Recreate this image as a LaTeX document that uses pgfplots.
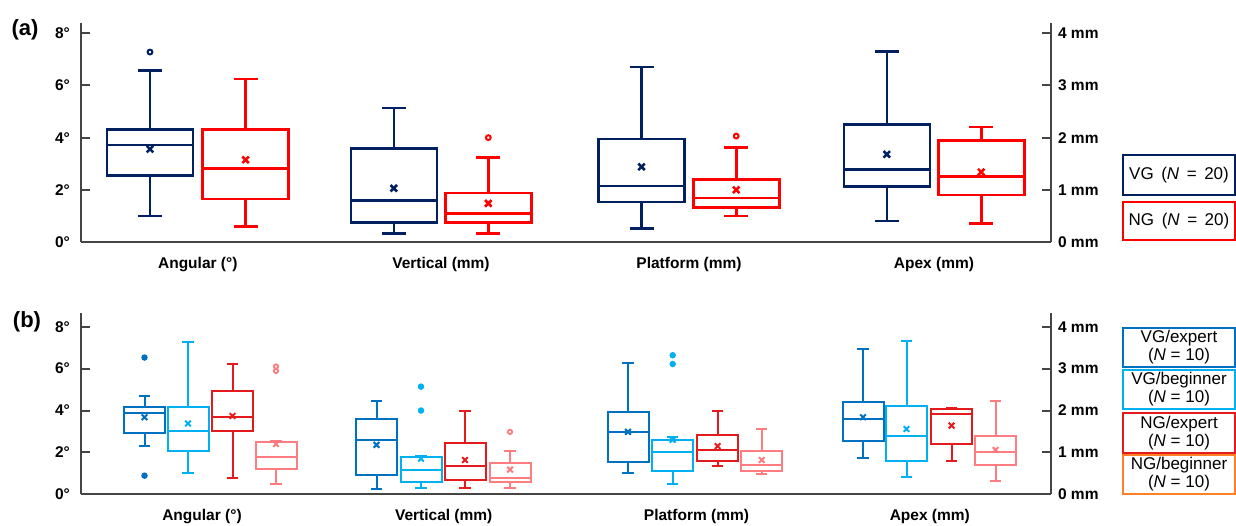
\documentclass[border=0pt]{standalone}
\usepackage{fontspec}
\setmainfont{Liberation Sans}
\usepackage{pgfplots}
\pgfplotsset{compat=1.18}
\usepgfplotslibrary{statistics}
\definecolor{navyA}{HTML}{002060}
\definecolor{redA}{HTML}{FF0000}
\definecolor{blueE}{HTML}{0070C0}
\definecolor{blueB}{HTML}{00B0F0}
\definecolor{redE}{HTML}{E41A1C}
\definecolor{salmon}{HTML}{FF7C80}
\definecolor{orangeL}{HTML}{FF7F27}
\definecolor{axisgray}{HTML}{454545}
\newcommand\BX[8]{\addplot[boxplot prepared={draw direction=y, draw position=#1, lower whisker=#2, lower quartile=#3, median=#4, upper quartile=#5, upper whisker=#6, average=#7}, #8]}
\pgfplotsset{
  every non boxed x axis/.append style={x axis line style={-}},
  every non boxed y axis/.append style={y axis line style={-}},
  base/.style={scale only axis, width=485pt, xmin=0.81, xmax=10.51, clip=false,
    boxplot/draw direction=y,
    axis line style={draw=axisgray, line width=1pt},
    tick style={draw=axisgray, line width=1pt},
    major tick length=4.5pt,
    tick label style={font=\bfseries\fontsize{7.75}{9}\selectfont, text=black},
  },
  degax/.style={base, axis x line*=bottom, axis y line*=left,
    x tick style={draw=none}, xticklabel style={yshift=-4pt},
    ytick={0,2,4,6,8}, yticklabels={0°,2°,4°,6°,8°}, ytick align=inside,
    yticklabel style={xshift=-2pt}},
  mmax/.style={base, axis x line=none, axis y line*=right, xtick=\empty,
    ytick={0,1,2,3,4}, yticklabels={0 mm,1 mm,2 mm,3 mm,4 mm}, ytick align=inside},
  boxA/.style={line width=1.3pt, boxplot/box extend=0.86, boxplot/whisker extend=0.24,
    boxplot/every average/.style={/tikz/mark=x,/tikz/mark size=2.3pt,/tikz/line width=1.4pt,/tikz/solid},
    mark=o, mark size=1.2pt, mark options={solid,line width=1pt,fill=white}},
  boxB/.style={line width=1pt, boxplot/box extend=0.41, boxplot/whisker extend=0.115,
    boxplot/every average/.style={/tikz/mark=x,/tikz/mark size=2.0pt,/tikz/line width=1.2pt,/tikz/solid},
    mark=*, mark size=1.3pt, mark options={solid,line width=0.6pt}},
  boxBo/.style={boxB, mark=o, mark size=1.1pt, mark options={solid,line width=0.9pt,fill=white}},
}
\begin{document}
\begin{tikzpicture}
\useasboundingbox (0,0) rectangle (618pt,262.5pt);
% ---------------- panel (a) ----------------
\begin{axis}[degax, at={(40.5pt,141.5pt)}, anchor=south west, height=109.6pt, ymin=0, ymax=8.4,
  xtick={1.978,4.41,6.89,9.34}, xticklabels={Angular (°),Vertical (mm),Platform (mm),Apex (mm)}]
\BX{1.50}{0.99}{2.54}{3.71}{4.32}{6.58}{3.56}{boxA, navyA} coordinates {(0,7.28)};
\BX{2.456}{0.60}{1.65}{2.82}{4.32}{6.25}{3.15}{boxA, redA} coordinates {};
\end{axis}
\begin{axis}[mmax, at={(40.5pt,141.5pt)}, anchor=south west, height=109.6pt, ymin=0, ymax=4.2]
\BX{3.938}{0.16}{0.37}{0.79}{1.79}{2.57}{1.03}{boxA, navyA} coordinates {};
\BX{4.883}{0.16}{0.37}{0.55}{0.94}{1.62}{0.74}{boxA, redA} coordinates {(0,2.0)};
\BX{6.415}{0.26}{0.77}{1.07}{1.97}{3.35}{1.44}{boxA, navyA} coordinates {};
\BX{7.362}{0.50}{0.66}{0.84}{1.20}{1.81}{1.00}{boxA, redA} coordinates {(0,2.03)};
\BX{8.868}{0.40}{1.06}{1.39}{2.25}{3.65}{1.68}{boxA, navyA} coordinates {};
\BX{9.812}{0.35}{0.90}{1.25}{1.95}{2.20}{1.34}{boxA, redA} coordinates {};
\end{axis}
% ---------------- panel (b) ----------------
\begin{axis}[degax, at={(40.5pt,15.35pt)}, anchor=south west, height=90.8pt, ymin=0, ymax=8.67,
  xtick={2.02,4.437,6.965,9.298}, xticklabels={Angular (°),Vertical (mm),Platform (mm),Apex (mm)}]
\BX{1.445}{2.32}{2.91}{3.89}{4.17}{4.71}{3.68}{boxB, blueE} coordinates {(0,6.53) (0,0.89)};
\BX{1.88}{1.00}{2.05}{3.03}{4.17}{7.25}{3.38}{boxB, blueB} coordinates {};
\BX{2.325}{0.76}{3.04}{3.69}{4.94}{6.21}{3.74}{boxB, redE} coordinates {};
\BX{2.76}{0.48}{1.19}{1.80}{2.48}{2.56}{2.40}{boxBo, salmon} coordinates {(0,6.10) (0,5.89)};
\end{axis}
\begin{axis}[mmax, at={(40.5pt,15.35pt)}, anchor=south west, height=90.8pt, ymin=0, ymax=4.335]
\BX{3.765}{0.12}{0.45}{1.30}{1.79}{2.23}{1.18}{boxB, blueE} coordinates {};
\BX{4.21}{0.15}{0.29}{0.57}{0.88}{0.92}{0.85}{boxB, blueB} coordinates {(0,2.57) (0,2.0)};
\BX{4.65}{0.15}{0.34}{0.68}{1.22}{1.99}{0.82}{boxB, redE} coordinates {};
\BX{5.10}{0.14}{0.30}{0.38}{0.75}{1.04}{0.59}{boxBo, salmon} coordinates {(0,1.49)};
\BX{6.28}{0.52}{0.77}{1.49}{1.97}{3.14}{1.49}{boxB, blueE} coordinates {};
\BX{6.727}{0.25}{0.55}{1.02}{1.30}{1.36}{1.30}{boxB, blueB} coordinates {(0,3.32) (0,3.11)};
\BX{7.176}{0.68}{0.80}{1.06}{1.42}{1.99}{1.15}{boxB, redE} coordinates {};
\BX{7.617}{0.48}{0.56}{0.71}{1.03}{1.56}{0.82}{boxBo, salmon} coordinates {};
\BX{8.63}{0.87}{1.28}{1.79}{2.21}{3.46}{1.84}{boxB, blueE} coordinates {};
\BX{9.065}{0.41}{0.80}{1.38}{2.10}{3.67}{1.56}{boxB, blueB} coordinates {};
\BX{9.515}{0.80}{1.20}{1.91}{2.03}{2.07}{1.64}{boxB, redE} coordinates {};
\BX{9.955}{0.32}{0.69}{1.01}{1.39}{2.23}{1.06}{boxBo, salmon} coordinates {};
\end{axis}
% ---------------- panel labels ----------------
\node[font=\bfseries\fontsize{11}{13}\selectfont] at (12.5pt,247.5pt) {(a)};
\node[font=\bfseries\fontsize{11}{13}\selectfont] at (13.5pt,101.5pt) {(b)};
% ---------------- legends ----------------
\begin{scope}[line width=0.9pt]
\draw[navyA, fill=white] (561.5pt,165pt) rectangle (617.5pt,185pt);
\node[font=\fontsize{8.5}{10}\selectfont] at (589.5pt,175pt) {VG\ \,(\textit{N}\, =\ \,20)};
\draw[redA, fill=white] (561.5pt,142.5pt) rectangle (617.5pt,161.5pt);
\node[font=\fontsize{8.5}{10}\selectfont] at (589.5pt,152pt) {NG\ \,(\textit{N}\, =\ \,20)};
\draw[blueE, fill=white] (561.5pt,79pt) rectangle (617.5pt,98.5pt);
\node[font=\fontsize{8.5}{9}\selectfont, align=center] at (589.5pt,88.75pt) {VG/expert\\(\textit{N} = 10)};
\draw[blueB, fill=white] (561.5pt,58pt) rectangle (617.5pt,77.5pt);
\node[font=\fontsize{8.5}{9}\selectfont, align=center] at (589.5pt,67.75pt) {VG/beginner\\(\textit{N} = 10)};
\draw[redE, fill=white] (561.5pt,36pt) rectangle (617.5pt,56pt);
\node[font=\fontsize{8.5}{9}\selectfont, align=center] at (589.5pt,46pt) {NG/expert\\(\textit{N} = 10)};
\draw[orangeL, fill=white] (561.5pt,15.5pt) rectangle (617.5pt,35pt);
\node[font=\fontsize{8.5}{9}\selectfont, align=center] at (589.5pt,25.25pt) {NG/beginner\\(\textit{N} = 10)};
\end{scope}
\end{tikzpicture}
\end{document}
